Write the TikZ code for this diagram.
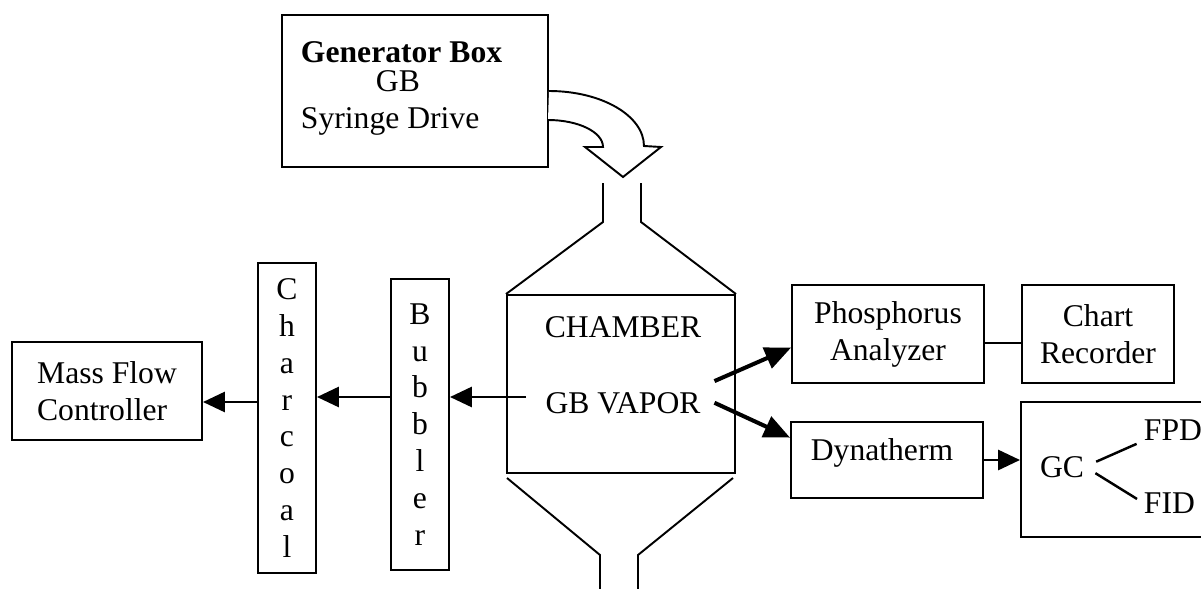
\documentclass[tikz,border=0pt]{standalone}
\usepackage{fontspec}
\setmainfont{Liberation Serif}
\usetikzlibrary{arrows.meta}

\begin{document}
\begin{tikzpicture}[line width=1.1pt,
    font=\fontsize{18}{21}\selectfont,
    box/.style={draw, inner sep=0pt, align=center},
    lbl/.style={inner sep=0pt},
    flow/.style={line width=1.7pt, -{Triangle[length=0.44cm,width=0.4cm]}},
    bigflow/.style={line width=2.3pt, -{Triangle[length=0.52cm,width=0.44cm]}}]
  \useasboundingbox (0,0) rectangle (24.02,-11.78);
  \clip (0,0) rectangle (24.02,-11.78);

  % generator box with the bent arrow
  \node[box, minimum width=5.32cm, minimum height=3.04cm] (gen) at (8.3,-1.82) {};
  \node[lbl, anchor=base west] (gtitle) at (6.0,-1.26) {\textbf{Generator Box}};
  \node[lbl, anchor=base west] (gname) at (7.5,-1.84) {GB};
  \node[lbl, anchor=base west] (gdrive) at (6.0,-2.56) {Syringe Drive};
  \draw[fill=white] (gen.east) arc (90:0:1.9 and 1.1) -- (13.22,-2.94) -- (12.46,-3.54)
     -- (11.7,-2.94) -- (12.06,-2.94) arc (0:90:1.1 and 0.54);

  % chamber
  \node[box, minimum width=4.56cm, minimum height=3.56cm] (chamber) at (12.42,-7.68) {};
  \draw (12.06,-3.66) -- (12.06,-4.44) -- (chamber.north west);
  \draw (12.82,-3.66) -- (12.82,-4.44) -- (chamber.north east);
  \draw (10.14,-9.56) -- (12.0,-11.1) -- (12.0,-11.9);
  \draw (14.66,-9.56) -- (12.76,-11.1) -- (12.76,-11.9);
  \node[lbl, anchor=base] (chtitle) at (12.46,-6.74) {CHAMBER};
  \node[lbl, anchor=base] (vapor) at (12.46,-8.26) {GB VAPOR};

  % left side
  \node[box, align=left, minimum width=3.8cm, minimum height=1.96cm] (mfc) at (2.14,-7.82) {Mass Flow\\Controller};
  \node[box, minimum width=1.16cm, minimum height=6.2cm] (charcoal) at (5.74,-8.36) {C\\h\\a\\r\\c\\o\\a\\l};
  \node[box, minimum width=1.16cm, minimum height=5.82cm] (bubbler) at (8.4,-8.49) {B\\u\\b\\b\\l\\e\\r};

  % right side
  \node[box, minimum width=3.84cm, minimum height=1.96cm] (phos) at (17.76,-6.68) {Phosphorus\\Analyzer};
  \node[box, minimum width=3.04cm, minimum height=1.96cm] (chart) at (21.96,-6.68) {Chart\\Recorder};
  \node[box, minimum width=3.84cm, minimum height=1.52cm] (dyna) at (17.74,-9.2) {};
  \node[lbl, anchor=base] (dynatxt) at (17.64,-9.2) {Dynatherm};
  \node[box, minimum width=4.3cm, minimum height=2.7cm] (gcbox) at (22.57,-9.39) {};
  \node[lbl, anchor=base] (gc) at (21.24,-9.54) {GC};
  \node[lbl, anchor=base west] (fpd) at (22.86,-8.8) {FPD};
  \node[lbl, anchor=base west] (fid) at (22.86,-10.26) {FID};

  % flows
  \coordinate (tap) at (10.52,-7.94);
  \coordinate (tapb) at (0,-8.04);
  \draw[flow] (tap) -- (tap -| bubbler.east);
  \draw[flow] (tap -| bubbler.west) -- (tap -| charcoal.east);
  \draw[flow] (tapb -| charcoal.west) -- (tapb -| mfc.east);
  \draw[bigflow] ([shift={(0.26,0.2)}]vapor.north east) -- (phos.188);
  \draw[bigflow] ([xshift=0.26cm]vapor.east) -- (dyna.167);
  \draw[line width=1.4pt] ([yshift=-0.18cm]phos.east) -- ([yshift=-0.18cm]chart.west);
  \draw[flow] (dyna.east) -- (dyna.east -| gcbox.west);
  \draw[line width=1.4pt, shorten <=7pt, shorten >=4pt] (gc.east) -- (fpd.south west);
  \draw[line width=1.4pt, shorten <=7pt, shorten >=4pt] (gc.east) -- (fid.west);
\end{tikzpicture}
\end{document}
